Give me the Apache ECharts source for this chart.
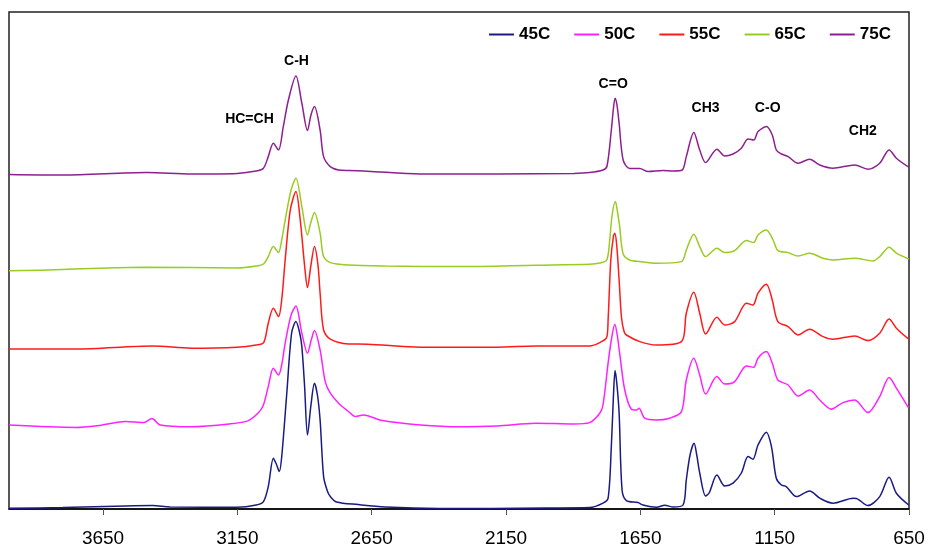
<!DOCTYPE html>
<html>
<head>
<meta charset="utf-8">
<script src="https://cdn.jsdelivr.net/npm/echarts@6/dist/echarts.min.js"></script>
<style>
  html, body { margin: 0; padding: 0; background: #fff; }
  #chart { width: 932px; height: 551px; }
</style>
</head>
<body>
<div id="chart"></div>
<script>
// FTIR spectra of the oil at different temperatures.
// Each spectrum: [wavenumber (cm-1), absorbance above its own baseline].
const seriesNames = ['45C', '50C', '55C', '65C', '75C'];
const seriesColors = ['#1A1A84', '#FF22FF', '#FF1A1A', '#99CC22', '#8E1F8E'];
// vertical offset applied to each spectrum so they are stacked
const stackOffsets = [0, 0.42, 0.80, 1.20, 1.68];

const spec45 = [
  [4000,0.004],[3800,0.007],[3565,0.015],[3465,0.017],[3400,0.010],[3151,0.009],
  [3080,0.020],[3053,0.037],[3035,0.112],[3016,0.254],[3005,0.225],[2994,0.187],
  [2985,0.26],[2966,0.579],[2948,0.88],[2932,0.937],[2918,0.88],[2910,0.812],
  [2900,0.62],[2889,0.37],[2876,0.52],[2863,0.629],[2852,0.57],[2842,0.445],
  [2829,0.162],[2815,0.09],[2804,0.062],[2781,0.035],[2700,0.022],[2600,0.010],
  [2400,0.003],[2200,0.003],[2000,0.005],[1839,0.007],[1789,0.029],[1770,0.054],
  [1758,0.312],[1750,0.57],[1744,0.692],[1737,0.62],[1729,0.48],[1718,0.095],
  [1702,0.042],[1659,0.032],[1640,0.020],[1590,0.009],[1559,0.019],[1528,0.010],
  [1491,0.020],[1479,0.145],[1465,0.27],[1450,0.329],[1440,0.27],[1429,0.18],
  [1407,0.065],[1394,0.08],[1365,0.17],[1336,0.115],[1305,0.129],[1274,0.18],
  [1249,0.262],[1231,0.249],[1212,0.32],[1181,0.384],[1162,0.312],[1144,0.154],
  [1125,0.12],[1107,0.112],[1069,0.062],[1020,0.09],[982,0.054],[933,0.029],
  [858,0.054],[846,0.053],[803,0.017],[759,0.062],[724,0.159],[697,0.079],[651,0.020]
];

const spec50 = [
  [4000,0.000],[3750,-0.012],[3664,-0.002],[3565,0.017],[3500,0.012],[3468,0.032],
  [3437,0.000],[3322,-0.009],[3180,0.005],[3109,0.022],[3071,0.062],[3053,0.100],
  [3035,0.192],[3016,0.284],[2997,0.250],[2985,0.30],[2972,0.409],[2950,0.55],
  [2932,0.595],[2910,0.459],[2889,0.359],[2875,0.425],[2863,0.472],[2842,0.375],
  [2823,0.217],[2804,0.159],[2773,0.109],[2736,0.067],[2710,0.042],[2681,0.050],
  [2610,0.022],[2468,0.000],[2325,-0.009],[2183,-0.005],[2040,0.009],[1898,0.005],
  [1839,0.012],[1801,0.059],[1789,0.100],[1770,0.309],[1758,0.425],[1745,0.504],
  [1736,0.450],[1727,0.359],[1708,0.175],[1683,0.079],[1665,0.075],[1655,0.084],
  [1634,0.034],[1590,0.025],[1541,0.034],[1497,0.067],[1479,0.225],[1451,0.334],
  [1429,0.250],[1407,0.155],[1365,0.242],[1336,0.205],[1299,0.217],[1255,0.295],
  [1228,0.289],[1212,0.334],[1181,0.367],[1159,0.309],[1138,0.225],[1100,0.200],
  [1063,0.145],[1020,0.175],[982,0.125],[939,0.079],[896,0.112],[852,0.125],
  [803,0.062],[759,0.142],[724,0.237],[697,0.184],[651,0.084]
];

const spec55 = [
  [4000,0.000],[3750,0.000],[3465,0.015],[3322,0.004],[3151,0.009],[3080,0.020],
  [3052,0.032],[3035,0.129],[3016,0.204],[2997,0.162],[2985,0.245],[2972,0.445],
  [2953,0.695],[2932,0.787],[2916,0.645],[2900,0.42],[2889,0.307],[2876,0.42],
  [2863,0.512],[2850,0.42],[2842,0.279],[2829,0.095],[2804,0.049],[2736,0.025],
  [2666,0.024],[2468,0.009],[2183,0.009],[2040,0.015],[1898,0.015],[1839,0.015],
  [1801,0.032],[1775,0.059],[1770,0.145],[1760,0.445],[1750,0.565],[1745,0.579],
  [1738,0.52],[1729,0.345],[1720,0.155],[1710,0.085],[1702,0.070],[1652,0.037],
  [1590,0.020],[1497,0.037],[1479,0.179],[1451,0.284],[1429,0.179],[1407,0.075],
  [1365,0.159],[1336,0.120],[1299,0.137],[1255,0.229],[1231,0.220],[1212,0.279],
  [1181,0.324],[1159,0.245],[1138,0.137],[1100,0.112],[1063,0.070],[1020,0.099],
  [970,0.062],[933,0.049],[852,0.065],[803,0.042],[759,0.079],[724,0.150],
  [697,0.104],[651,0.049]
];

const spec65 = [
  [4000,-0.009],[3800,-0.003],[3500,0.009],[3151,0.005],[3080,0.015],[3053,0.025],
  [3035,0.062],[3016,0.112],[2997,0.082],[2985,0.145],[2972,0.245],[2950,0.395],
  [2932,0.454],[2910,0.312],[2889,0.170],[2876,0.235],[2863,0.282],[2842,0.179],
  [2829,0.062],[2804,0.032],[2736,0.020],[2600,0.015],[2325,0.012],[2040,0.019],
  [1839,0.024],[1801,0.030],[1775,0.045],[1764,0.145],[1755,0.270],[1743,0.337],
  [1735,0.285],[1727,0.212],[1714,0.075],[1690,0.045],[1652,0.037],[1590,0.029],
  [1497,0.037],[1479,0.095],[1451,0.174],[1429,0.112],[1407,0.062],[1365,0.104],
  [1336,0.082],[1299,0.092],[1255,0.142],[1228,0.132],[1212,0.170],[1181,0.195],
  [1156,0.145],[1138,0.092],[1100,0.082],[1063,0.065],[1020,0.079],[970,0.054],
  [933,0.045],[852,0.054],[784,0.040],[759,0.062],[724,0.109],[697,0.079],[651,0.050]
];

const spec75 = [
  [4000,-0.007],[3800,-0.010],[3486,0.002],[3322,-0.005],[3151,-0.002],[3080,0.010],
  [3053,0.024],[3035,0.082],[3016,0.149],[2997,0.115],[2979,0.232],[2960,0.365],
  [2932,0.485],[2910,0.349],[2889,0.212],[2876,0.29],[2863,0.332],[2842,0.215],
  [2829,0.082],[2804,0.032],[2773,0.015],[2736,0.012],[2666,0.009],[2468,-0.005],
  [2183,-0.005],[1898,-0.002],[1839,0.002],[1789,0.015],[1774,0.035],[1758,0.215],
  [1750,0.325],[1744,0.374],[1737,0.34],[1729,0.249],[1714,0.065],[1690,0.022],
  [1652,0.022],[1621,0.007],[1566,0.012],[1528,0.010],[1494,0.015],[1479,0.082],
  [1451,0.202],[1429,0.115],[1407,0.052],[1365,0.119],[1336,0.085],[1305,0.095],
  [1274,0.124],[1249,0.170],[1228,0.165],[1212,0.207],[1181,0.232],[1159,0.190],
  [1144,0.115],[1125,0.095],[1100,0.082],[1063,0.049],[1020,0.069],[982,0.040],
  [933,0.024],[852,0.040],[803,0.019],[759,0.049],[724,0.115],[697,0.074],[651,0.029]
];

const spectra = [spec45, spec50, spec55, spec65, spec75];

// x-axis tick labels (cm-1)
const xTicks = [650, 1150, 1650, 2150, 2650, 3150, 3650];

// band assignments written above the top spectrum: [text, wavenumber, height]
const bandNames = ['HC=CH', 'C-H', 'C=O', 'CH3', 'C-O', 'CH2'];
const bandWavenumbers = [3105, 2930, 1751, 1407, 1176, 822];
const bandHeights = [1.95, 2.237, 2.125, 2.005, 2.005, 1.888];

const FONT = '"Liberation Sans", Arial, sans-serif';

const chart = echarts.init(document.getElementById('chart'), null, { renderer: 'canvas' });

const series = spectra.map((spec, i) => {
  const s = {
    name: seriesNames[i],
    type: 'line',
    color: seriesColors[i],
    showSymbol: false,
    smooth: 0.3,
    lineStyle: { width: 1.5, color: seriesColors[i] },
    data: spec.map(p => [p[0], +(p[1] + stackOffsets[i]).toFixed(4)]),
    z: 2 + i
  };
  if (i === spectra.length - 1) {
    s.markPoint = {
      silent: true,
      symbol: 'circle',
      symbolSize: 0,
      label: {
        show: true,
        position: 'inside',
        formatter: p => p.name,
        fontFamily: FONT,
        fontWeight: 'bold',
        fontSize: 14,
        color: '#000'
      },
      data: bandNames.map((n, k) => ({ name: n, coord: [bandWavenumbers[k], bandHeights[k]] }))
    };
  }
  return s;
});

chart.setOption({
  animation: false,
  backgroundColor: '#fff',
  grid: {
    left: 9, right: 23, top: 12, bottom: 42,
    show: true, borderColor: '#222', borderWidth: 1.5, backgroundColor: 'transparent'
  },
  legend: {
    data: seriesNames,
    left: 484,
    top: 21,
    icon: 'rect',
    itemWidth: 25,
    itemHeight: 2,
    itemGap: 24,
    textStyle: { fontFamily: FONT, fontWeight: 'bold', fontSize: 17, color: '#000' }
  },
  xAxis: {
    type: 'value',
    inverse: true,
    min: 650,
    max: 4000,
    interval: 500,
    axisLine: { show: true, lineStyle: { color: '#000', width: 1.5 } },
    axisTick: { show: true, customValues: xTicks, length: 6, lineStyle: { color: '#555' } },
    axisLabel: {
      customValues: xTicks,
      formatter: v => String(v),
      fontFamily: FONT, fontSize: 19, color: '#000', margin: 20
    },
    splitLine: { show: false }
  },
  yAxis: {
    type: 'value',
    min: 0,
    max: 2.485,
    show: false,
    splitLine: { show: false }
  },
  series: series
});
</script>
</body>
</html>
